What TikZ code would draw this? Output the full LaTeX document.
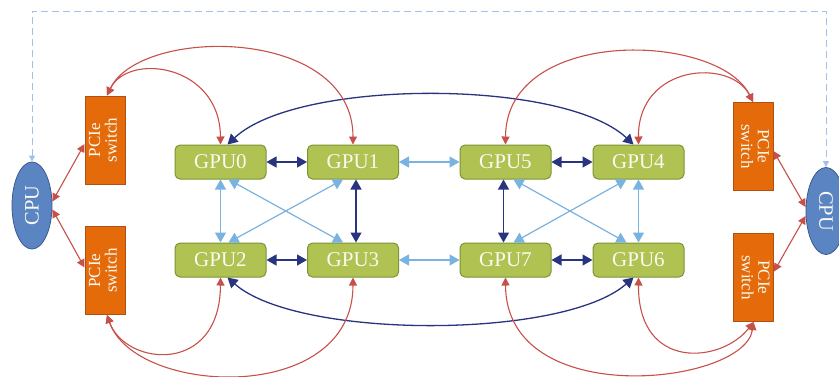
\documentclass[tikz,border=0pt]{standalone}
\usepackage{fontspec}
\setmainfont{Liberation Serif}
\usetikzlibrary{shapes.geometric,arrows.meta,calc}

\definecolor{gpufill}{RGB}{175,194,82}
\definecolor{gpuline}{RGB}{122,150,52}
\definecolor{cpufill}{RGB}{91,133,194}
\definecolor{cpuline}{RGB}{58,90,140}
\definecolor{pcifill}{RGB}{228,106,10}
\definecolor{pciline}{RGB}{176,80,20}
\definecolor{navyc}{RGB}{40,52,128}
\definecolor{lbluec}{RGB}{122,178,224}
\definecolor{redc}{RGB}{200,80,75}
\definecolor{dashc}{RGB}{164,192,232}
\definecolor{txtc}{RGB}{250,250,240}

\begin{document}
\begin{tikzpicture}[x=1pt,y=-1pt,
 gpu/.style={draw=gpuline, line width=1pt, fill=gpufill, rounded corners=5pt,
   minimum width=91pt, minimum height=34pt, inner sep=0pt, text=txtc,
   font=\fontsize{21}{22}\selectfont},
 cpu/.style={ellipse, draw=cpuline, line width=0.8pt, fill=cpufill,
   minimum width=40pt, minimum height=87pt, inner sep=0pt, text=txtc,
   font=\fontsize{20.5}{22}\selectfont},
 pcie/.style={draw=pciline, line width=1pt, fill=pcifill,
   minimum width=40pt, minimum height=88pt, inner sep=0pt, text=txtc,
   font=\fontsize{17}{15}\selectfont},
 nv/.style={draw=navyc, line width=1.3pt,
   {Triangle[length=10pt,width=11pt]}-{Triangle[length=10pt,width=11pt]}},
 lb/.style={draw=lbluec, line width=1.2pt,
   {Triangle[length=10pt,width=11pt]}-{Triangle[length=10pt,width=11pt]}},
 rd/.style={draw=redc, line width=1.1pt,
   {Triangle[length=8pt,width=8pt]}-{Triangle[length=8pt,width=8pt]}},
 dsh/.style={draw=dashc, line width=1pt, dash pattern=on 7pt off 4pt,
   {Triangle[length=6pt,width=6pt]}-{Triangle[length=6pt,width=6pt]}}
]
\useasboundingbox (0,0) rectangle (839,376);
\fill[white] (0,0) rectangle (839,376);

% CPUs
\node[cpu] (cpuL) at (32,205.5) {\rotatebox{90}{CPU}};
\node[cpu] (cpuR) at (826,211) {\rotatebox{-90}{CPU}};

% PCIe switches
\node[pcie] (pL1) at (105,140) {\rotatebox{90}{\begin{tabular}{@{}c@{}}PCIe\\switch\end{tabular}}};
\node[pcie] (pL2) at (105,270.5) {\rotatebox{90}{\begin{tabular}{@{}c@{}}PCIe\\switch\end{tabular}}};
\node[pcie] (pR1) at (753,146.5) {\rotatebox{-90}{\begin{tabular}{@{}c@{}}PCIe\\switch\end{tabular}}};
\node[pcie] (pR2) at (753.5,277.5) {\rotatebox{-90}{\begin{tabular}{@{}c@{}}PCIe\\switch\end{tabular}}};

% GPUs
\node[gpu] (g0) at (220.5,162) {GPU0};
\node[gpu] (g1) at (353,162) {GPU1};
\node[gpu] (g5) at (505.5,162) {GPU5};
\node[gpu] (g4) at (638.5,162) {GPU4};
\node[gpu] (g2) at (220.5,260) {GPU2};
\node[gpu] (g3) at (353,260) {GPU3};
\node[gpu] (g7) at (505.5,260) {GPU7};
\node[gpu] (g6) at (638.5,260) {GPU6};

% dashed CPU-CPU link
\coordinate (topline) at (0,11);
\draw[dsh] (cpuL.north) -- (cpuL.north |- topline) -- (cpuR.north |- topline) -- (cpuR.north);

% horizontal links
\draw[nv] (g0.east) -- (g1.west);
\draw[nv] (g2.east) -- (g3.west);
\draw[nv] (g5.east) -- (g4.west);
\draw[nv] (g7.east) -- (g6.west);
\draw[lb] (g1.east) -- (g5.west);
\draw[lb] (g3.east) -- (g7.west);

% vertical links
\draw[lb] (g0.south) -- (g2.north);
\draw[nv] ([xshift=3pt]g1.south) -- ([xshift=3pt]g3.north);
\draw[nv] ([xshift=-2pt]g5.south) -- ([xshift=-2pt]g7.north);
\draw[lb] (g4.south) -- (g6.north);

% crossing links
\draw[lb] ([xshift=8pt]g0.south) -- ([xshift=-10pt]g3.north);
\draw[lb] ([xshift=-10pt]g1.south) -- ([xshift=8pt]g2.north);
\draw[lb] ([xshift=8pt]g5.south) -- ([xshift=-12pt]g6.north);
\draw[lb] ([xshift=-12pt]g4.south) -- ([xshift=8pt]g7.north);

% long arcs
\draw[nv] ([xshift=7pt]g0.north) .. controls +(70,-66) and +(-70,-66) .. ([xshift=-5pt]g4.north);
\draw[nv] ([xshift=7pt]g2.south) .. controls +(70,62) and +(-70,62) .. ([xshift=-5pt]g6.south);

% PCIe to GPU curves
\draw[rd] ([xshift=2pt]pL1.north) .. controls (128,52) and (220,64) .. (g0.north);
\draw[rd] ([xshift=2pt]pL1.north) .. controls (140,26) and (353,26) .. (g1.north);
\draw[rd] (pR1.north) .. controls (731,58) and (638,64) .. (g4.north);
\draw[rd] (pR1.north) .. controls (719,32) and (506,26) .. (g5.north);
\draw[rd] ([xshift=2pt]pL2.south) .. controls (125,366) and (220,376) .. (g2.south);
\draw[rd] ([xshift=2pt]pL2.south) .. controls (135,396) and (353,406) .. (g3.south);
\draw[rd] (pR2.south) .. controls (722,363) and (638,372) .. (g6.south);
\draw[rd] (pR2.south) .. controls (745,385) and (506,412) .. (g7.south);

% CPU to PCIe
\draw[rd] ($(cpuL.east)+(0,-4)$) -- ($(pL1.west)+(0,4)$);
\draw[rd] ($(cpuL.east)+(0,4)$) -- ($(pL2.west)+(0,-3)$);
\draw[rd] ($(pR1.east)+(0,4.5)$) -- ($(cpuR.west)+(0,-4)$);
\draw[rd] ($(cpuR.west)+(0,5)$) -- ($(pR2.east)+(0,-6)$);
\end{tikzpicture}
\end{document}
